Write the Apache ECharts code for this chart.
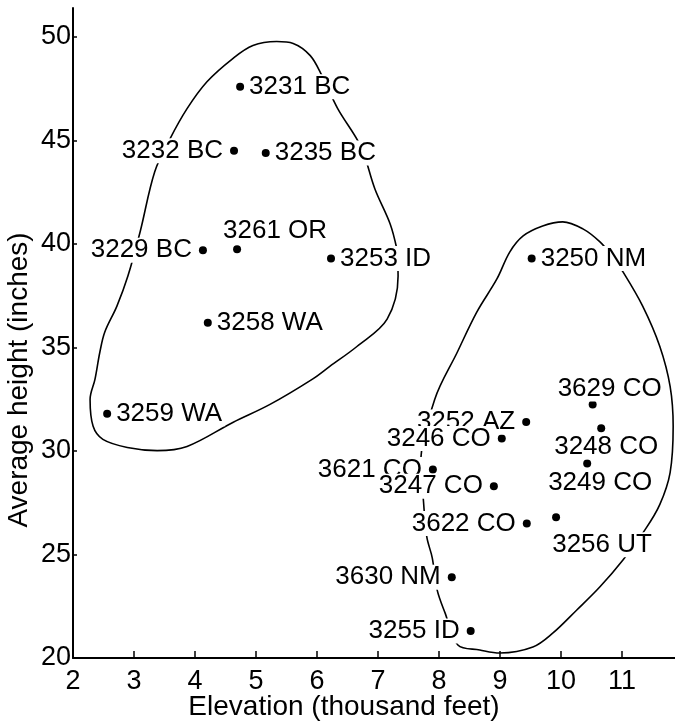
<!DOCTYPE html>
<html>
<head>
<meta charset="utf-8">
<script src="https://cdn.jsdelivr.net/npm/echarts@6/dist/echarts.min.js"></script>
<style>
  html, body { margin: 0; padding: 0; background: #fff; }
  #chart { width: 675px; height: 724px; }
</style>
</head>
<body>
<div id="chart"></div>
<script>
// stations (seed source + state), elevation in thousand feet, average height in inches
var stations = ['3231 BC', '3232 BC', '3235 BC', '3229 BC', '3261 OR', '3253 ID', '3258 WA', '3259 WA',
  '3250 NM', '3629 CO', '3252 AZ', '3248 CO', '3246 CO', '3249 CO', '3621 CO', '3247 CO',
  '3622 CO', '3256 UT', '3630 NM', '3255 ID']
var elevation = [4.74, 4.64, 5.16, 4.13, 4.69, 6.23, 4.21, 2.56,
  9.52, 10.52, 9.43, 10.66, 9.03, 10.43, 7.90, 8.90,
  9.44, 9.92, 8.21, 8.52]
var avgHeight = [47.6, 44.5, 44.4, 39.7, 39.75, 39.3, 36.2, 31.8,
  39.3, 32.25, 31.4, 31.1, 30.6, 29.4, 29.1, 28.3,
  26.5, 26.8, 23.9, 21.3]

// hand drawn envelopes round the two groups (elevation, height)
var northGroup = [[7.31, 39.76], [7.33, 38.45], [7.15, 36.37], [6.66, 35.06], [6.21, 34.09], [5.92, 33.46],
  [5.23, 32.25], [4.62, 31.38], [3.87, 30.22], [3.38, 30.02], [2.89, 30.17], [2.49, 30.56], [2.33, 31.19],
  [2.28, 32.49], [2.36, 33.46], [2.44, 34.77], [2.52, 35.74], [2.72, 37.0], [2.90, 38.45], [3.10, 40.58],
  [3.34, 43.49], [3.59, 45.08], [3.87, 46.54], [4.20, 47.85], [4.62, 48.96], [4.95, 49.59], [5.34, 49.78],
  [5.61, 49.69], [5.89, 49.10], [6.08, 48.14], [6.34, 46.54], [6.72, 44.70], [6.95, 42.66], [7.20, 40.97],
  [7.31, 39.76]]
var southGroup = [[10.84, 39.40], [11.02, 38.64], [11.34, 37.0], [11.62, 35.06], [11.79, 33.12], [11.84, 31.19],
  [11.79, 28.96], [11.62, 27.41], [11.38, 26.20], [11.02, 24.75], [10.64, 23.44], [10.26, 22.32],
  [9.87, 21.21], [9.54, 20.53], [9.0, 20.24], [8.67, 20.39], [8.31, 20.63], [8.10, 22.18], [7.97, 23.29],
  [7.89, 24.84], [7.80, 25.86], [7.74, 27.8], [7.70, 29.3], [7.93, 32.49], [8.30, 34.77], [8.62, 36.71],
  [8.95, 38.31], [9.16, 39.61], [9.38, 40.39], [9.70, 40.87], [10.03, 41.07], [10.36, 40.73], [10.64, 40.10],
  [10.84, 39.40]]

var xTicks = [2, 3, 4, 5, 6, 7, 8, 9, 10, 11]
var yTicks = [20, 25, 30, 35, 40, 45, 50]

// where each station label sits round its dot
var labelPlace = [
  { position: 'right' }, { position: 'left' }, { position: 'right' }, { position: 'left' },
  { position: 'top', distance: 1, offset: [38, -1] }, { position: 'right' }, { position: 'right' }, { position: 'right' },
  { position: 'right' }, { position: 'top', distance: 1, offset: [17, 2] }, { position: 'left' },
  { position: 'bottom', distance: 1, offset: [5, 1] }, { position: 'left' },
  { position: 'bottom', distance: 1, offset: [13, 2] }, { position: 'left' }, { position: 'left' },
  { position: 'left' }, { position: 'bottom', distance: 1, offset: [46, 10] }, { position: 'left' }, { position: 'left' }
]

var font = 'Liberation Sans, Arial, Helvetica, sans-serif'
var chart = echarts.init(document.getElementById('chart'))

var points = stations.map(function (name, i) {
  var place = labelPlace[i]
  var dist = place.distance != null ? place.distance : (place.position == 'left' ? 4 : 2)
  return {
    name: name,
    value: [elevation[i], avgHeight[i]],
    label: { position: place.position, distance: dist, offset: place.offset || [0, 0] }
  }
})

function envelope(data) {
  return {
    type: 'line',
    data: data,
    smooth: 0.35,
    symbol: 'none',
    silent: true,
    z: 1,
    lineStyle: { color: '#000', width: 1.6 }
  }
}

chart.setOption({
  animation: false,
  backgroundColor: '#fff',
  grid: { left: 73, right: 0, top: 8, bottom: 66, outerBoundsMode: 'none' },
  xAxis: {
    type: 'value',
    min: 2,
    max: 11.87,
    interval: 1,
    name: 'Elevation (thousand feet)',
    nameLocation: 'middle',
    nameGap: 35,
    nameMoveOverlap: false,
    nameTextStyle: { color: '#000', fontSize: 28, fontFamily: font, padding: [0, 60, 0, 0] },
    axisLine: { lineStyle: { color: '#000', width: 2 } },
    axisTick: { inside: true, length: 7, customValues: xTicks, lineStyle: { color: '#000', width: 1.5 } },
    axisLabel: { customValues: xTicks, color: '#000', fontSize: 27, fontFamily: font, margin: 10 },
    splitLine: { show: false }
  },
  yAxis: {
    type: 'value',
    min: 20,
    max: 51.4,
    interval: 5,
    name: 'Average height (inches)',
    nameLocation: 'middle',
    nameGap: 40,
    nameMoveOverlap: false,
    nameTextStyle: { color: '#000', fontSize: 28, fontFamily: font, padding: [0, 94, 0, 0] },
    axisLine: { lineStyle: { color: '#000', width: 2 } },
    axisTick: { inside: true, length: 4, customValues: yTicks, lineStyle: { color: '#000', width: 1.5 } },
    axisLabel: { customValues: yTicks, color: '#000', fontSize: 27, fontFamily: font, margin: 2 },
    splitLine: { show: false }
  },
  series: [
    envelope(northGroup),
    envelope(southGroup),
    {
      type: 'scatter',
      data: points,
      symbolSize: 8,
      z: 3,
      itemStyle: { color: '#000', opacity: 1 },
      label: {
        show: true,
        formatter: '{b}',
        color: '#000',
        fontSize: 26,
        fontFamily: font,
        lineHeight: 25,
        backgroundColor: '#fff',
        padding: [0, 3]
      }
    }
  ]
})
</script>
</body>
</html>
